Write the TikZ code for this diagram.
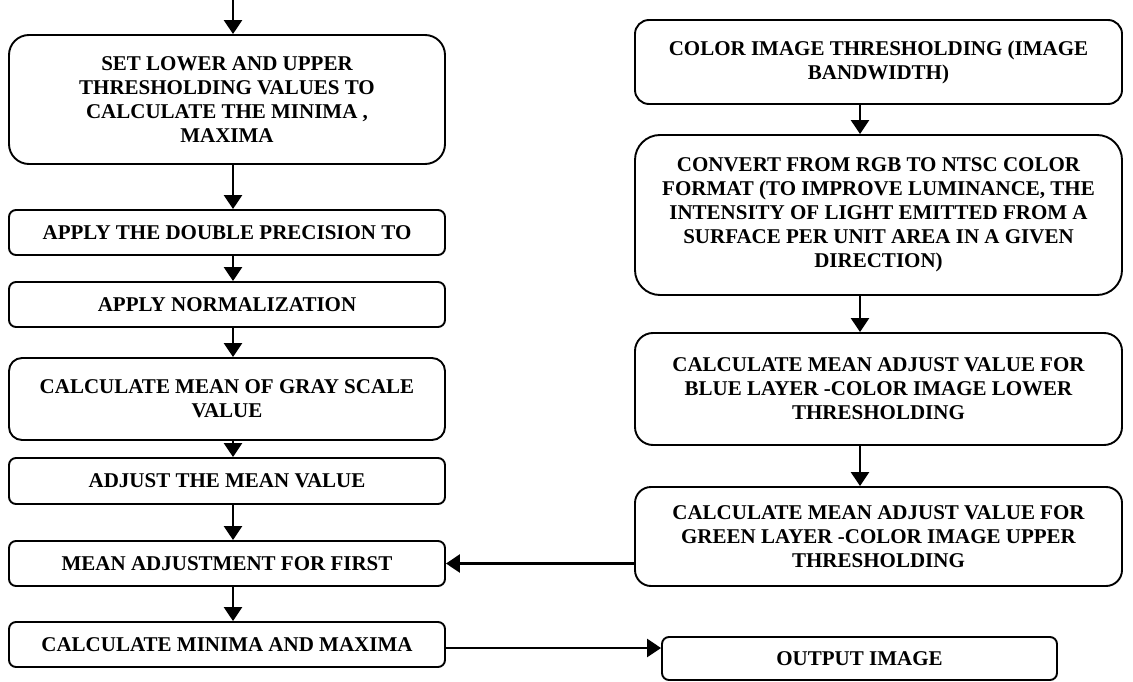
\documentclass[tikz,border=0pt]{standalone}
\usepackage{fontspec}
\setmainfont{Liberation Serif}
\usetikzlibrary{arrows.meta}
\begin{document}
\begin{tikzpicture}[x=1pt,y=-1pt,
  box/.style={draw, line width=1.9pt, rounded corners=#1, align=center,
    font=\fontsize{21}{24}\selectfont\bfseries, inner sep=0pt},
  box/.default=7pt,
  arr/.style={line width=2.4pt, -{Triangle[length=14pt,width=18pt]}}]
\useasboundingbox (0,0) rectangle (1133,682);
% left column
\node[box=20pt, minimum width=436pt, minimum height=129pt] (b1) at (227,99.5)
  {SET LOWER AND UPPER\\THRESHOLDING VALUES TO\\CALCULATE THE MINIMA ,\\MAXIMA};
\node[box, minimum width=436pt, minimum height=45pt] (b2) at (227,232.5)
  {APPLY THE DOUBLE PRECISION TO};
\node[box, minimum width=436pt, minimum height=45pt] (b3) at (227,304.5)
  {APPLY NORMALIZATION};
\node[box=13pt, minimum width=436pt, minimum height=82pt] (b4) at (227,399)
  {CALCULATE MEAN OF GRAY SCALE\\VALUE};
\node[box, minimum width=436pt, minimum height=46pt] (b5) at (227,481)
  {ADJUST THE MEAN VALUE};
\node[box, minimum width=436pt, minimum height=45pt] (b6) at (227,563.5)
  {MEAN ADJUSTMENT FOR FIRST};
\node[box, minimum width=436pt, minimum height=45pt] (b7) at (227,644.5)
  {CALCULATE MINIMA AND MAXIMA};
% right column
\node[box=14pt, minimum width=487pt, minimum height=84pt] (r1) at (878.5,62)
  {COLOR IMAGE THRESHOLDING (IMAGE\\BANDWIDTH)};
\node[box=25pt, minimum width=487pt, minimum height=160pt] (r2) at (878.5,215)
  {CONVERT FROM RGB TO NTSC COLOR\\FORMAT (TO IMPROVE LUMINANCE, THE\\INTENSITY OF LIGHT EMITTED FROM A\\SURFACE PER UNIT AREA IN A GIVEN\\DIRECTION)};
\node[box=18pt, minimum width=487pt, minimum height=112pt] (r3) at (878.5,389)
  {CALCULATE MEAN ADJUST VALUE FOR\\BLUE LAYER -COLOR IMAGE LOWER\\THRESHOLDING};
\node[box=16pt, minimum width=487pt, minimum height=99pt] (r4) at (878.5,536.5)
  {CALCULATE MEAN ADJUST VALUE FOR\\GREEN LAYER -COLOR IMAGE UPPER\\THRESHOLDING};
\node[box, minimum width=395pt, minimum height=43pt] (out) at (859.5,658.5)
  {OUTPUT IMAGE};
% connector guides
\coordinate (lx) at (233,0);
\coordinate (rx) at (860,0);
\coordinate (oy) at (0,648);
% connectors
\draw[arr] (lx) -- (b1.north -| lx);
\draw[arr] (b1.south -| lx) -- (b2.north -| lx);
\draw[arr] (b2.south -| lx) -- (b3.north -| lx);
\draw[arr] (b3.south -| lx) -- (b4.north -| lx);
\draw[arr] (b4.south -| lx) -- (b5.north -| lx);
\draw[arr] (b5.south -| lx) -- (b6.north -| lx);
\draw[arr] (b6.south -| lx) -- (b7.north -| lx);
\draw[arr] (r1.south -| rx) -- (r2.north -| rx);
\draw[arr] (r2.south -| rx) -- (r3.north -| rx);
\draw[arr] (r3.south -| rx) -- (r4.north -| rx);
\draw[arr] (b6.east -| r4.west) -- (b6.east);
\draw[arr] (b7.east |- oy) -- (out.west |- oy);
\end{tikzpicture}
\end{document}
